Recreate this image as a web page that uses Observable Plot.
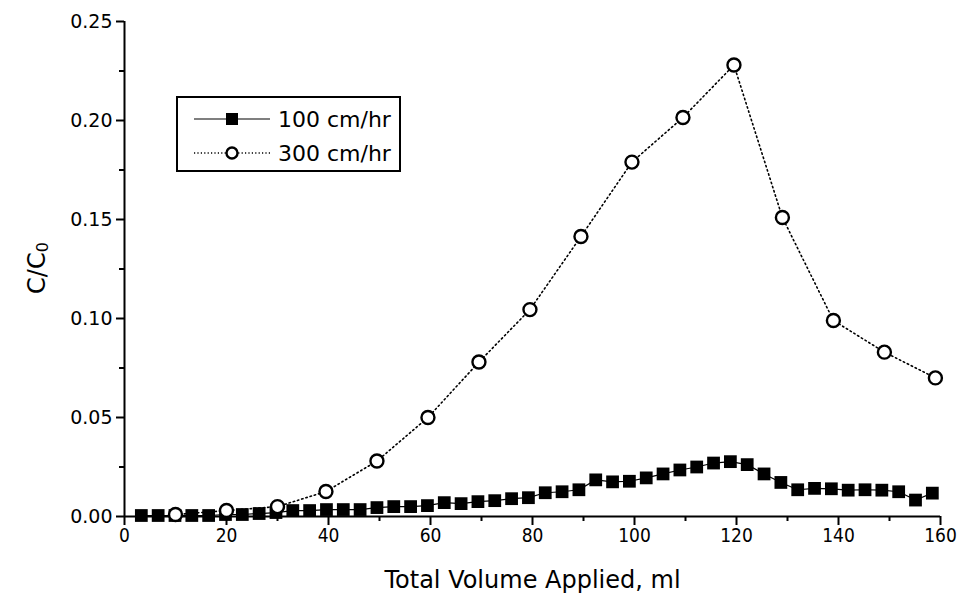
<!DOCTYPE html>
<html>
<head>
<meta charset="utf-8">
<script src="https://cdn.jsdelivr.net/npm/d3@7"></script>
<script src="https://cdn.jsdelivr.net/npm/@observablehq/plot@0.6"></script>
<style>
  html, body { margin: 0; padding: 0; background: white; }
  #wrap { position: relative; width: 961px; height: 599px; }
  #legend {
    position: absolute; left: 176px; top: 96px; width: 225px; height: 76px;
    border: 2px solid black; background: white; box-sizing: border-box;
    font-family: "DejaVu Sans", sans-serif; font-size: 22px; color: black;
  }
  .row { position: absolute; left: 14px; height: 30px; display: flex; align-items: center; }
  .row svg { display: block; margin-right: 8px; }
</style>
</head>
<body>
<div id="wrap"></div>
<script>
// ---- data ----
const seriesNames = ["100 cm/hr", "300 cm/hr"];

const volume100 = [3.3, 6.6, 9.9, 13.2, 16.5, 19.8, 23.1, 26.4, 29.7, 33.0,
  36.3, 39.6, 42.9, 46.2, 49.5, 52.8, 56.1, 59.4, 62.7, 66.0,
  69.3, 72.6, 75.9, 79.2, 82.5, 85.8, 89.1, 92.4, 95.7, 99.0,
  102.3, 105.6, 108.9, 112.2, 115.5, 118.8, 122.1, 125.4, 128.7, 132.0,
  135.3, 138.6, 141.9, 145.2, 148.5, 151.8, 155.1, 158.4];
const conc100 = [0.0005, 0.0005, 0.0005, 0.0005, 0.0005, 0.001, 0.001, 0.0015, 0.002, 0.003,
  0.003, 0.0035, 0.0035, 0.0035, 0.0045, 0.005, 0.005, 0.0055, 0.007, 0.0065,
  0.0075, 0.008, 0.009, 0.0095, 0.012, 0.0125, 0.0135, 0.0185, 0.0175, 0.0178,
  0.0195, 0.0215, 0.0235, 0.025, 0.027, 0.0277, 0.0262, 0.0215, 0.0172, 0.0135,
  0.0142, 0.014, 0.0133, 0.0135, 0.0133, 0.0125, 0.0083, 0.0118];

const volume300 = [10, 20, 30, 39.5, 49.5, 59.5, 69.5, 79.5, 89.5, 99.5, 109.5, 119.5, 129, 139, 149, 159];
const conc300 = [0.001, 0.003, 0.005, 0.0126, 0.028, 0.050, 0.078, 0.1045, 0.1414, 0.179, 0.2015, 0.228, 0.151, 0.099, 0.083, 0.070];

const xTicks = [0, 20, 40, 60, 80, 100, 120, 140, 160];
const xMinorTicks = [10, 30, 50, 70, 90, 110, 130, 150];
const yTicks = [0, 0.05, 0.10, 0.15, 0.20, 0.25];
const yMinorTicks = [0.025, 0.075, 0.125, 0.175, 0.225];

const xLabel = "Total Volume Applied, ml";
const yLabelMain = "C/C";
const yLabelSub = "0";

// ---- build tables ----
const data100 = volume100.map((v, i) => ({volume: v, c: conc100[i]}));
const data300 = volume300.map((v, i) => ({volume: v, c: conc300[i]}));

const chart = Plot.plot({
  width: 961,
  height: 599,
  marginLeft: 124,
  marginRight: 21,
  marginTop: 21,
  marginBottom: 83,
  x: {domain: [0, 160]},
  y: {domain: [0, 0.25]},
  style: {fontFamily: "DejaVu Sans", fontSize: "19px", background: "white", color: "black"},
  marks: [
    Plot.ruleY([0], {stroke: "black", strokeWidth: 2}),
    Plot.ruleX([0], {stroke: "black", strokeWidth: 2}),
    Plot.axisX({ticks: xMinorTicks, tickSize: 5, tickFormat: () => "", label: null, strokeWidth: 2}),
    Plot.axisX({ticks: xTicks, tickSize: 9, tickPadding: 3, fontSize: 19, label: null, strokeWidth: 2,
      fontFamily: "DejaVu Sans Condensed"}),
    Plot.axisY({ticks: yMinorTicks, tickSize: 5, tickFormat: () => "", label: null, strokeWidth: 2}),
    Plot.axisY({ticks: yTicks, tickSize: 8, tickPadding: 4, fontSize: 19, label: null, strokeWidth: 2,
      tickFormat: d3.format(".2f")}),
    Plot.line(data300, {x: "volume", y: "c", stroke: "black", strokeWidth: 1.6, strokeDasharray: "1.4,3"}),
    Plot.line(data100, {x: "volume", y: "c", stroke: "black", strokeWidth: 1.2}),
    Plot.dot(data100, {x: "volume", y: "c", symbol: "square", r: 7.2, fill: "black", stroke: "none"}),
    Plot.dot(data300, {x: "volume", y: "c", r: 6.5, fill: "white", stroke: "black", strokeWidth: 2.4}),
    Plot.text([xLabel], {frameAnchor: "bottom", dy: 64, fontSize: 24, lineAnchor: "middle"})
  ]
});

const wrap = document.getElementById("wrap");
wrap.appendChild(chart);

// y-axis title with a real subscript
const svgSel = d3.select(chart);
const yt = svgSel.append("text")
  .attr("transform", "translate(38,268) rotate(-90)")
  .attr("text-anchor", "middle")
  .attr("dominant-baseline", "middle")
  .attr("font-family", "DejaVu Sans")
  .attr("font-size", 24)
  .attr("fill", "black");
yt.append("tspan").text(yLabelMain);
yt.append("tspan").attr("font-size", 16).attr("dy", 5).text(yLabelSub);

// ---- legend ----
const legend = document.createElement("div");
legend.id = "legend";
const rows = [
  {name: seriesNames[0], dash: null, marker: "square", top: 6},
  {name: seriesNames[1], dash: "1.2,2.2", marker: "circle", top: 40}
];
rows.forEach(r => {
  const row = document.createElement("div");
  row.className = "row";
  row.style.top = r.top + "px";
  const svg = d3.create("svg").attr("width", 78).attr("height", 30);
  svg.append("line").attr("x1", 2).attr("x2", 78).attr("y1", 15).attr("y2", 15)
    .attr("stroke", "black").attr("stroke-width", r.dash ? 1.4 : 1.2)
    .attr("stroke-dasharray", r.dash);
  if (r.marker === "square") {
    svg.append("rect").attr("x", 34).attr("y", 9).attr("width", 12).attr("height", 12).attr("fill", "black");
  } else {
    svg.append("circle").attr("cx", 40).attr("cy", 15).attr("r", 5.5)
      .attr("fill", "white").attr("stroke", "black").attr("stroke-width", 2.4);
  }
  row.appendChild(svg.node());
  const t = document.createElement("span");
  t.textContent = r.name;
  row.appendChild(t);
  legend.appendChild(row);
});
wrap.appendChild(legend);
</script>
</body>
</html>
